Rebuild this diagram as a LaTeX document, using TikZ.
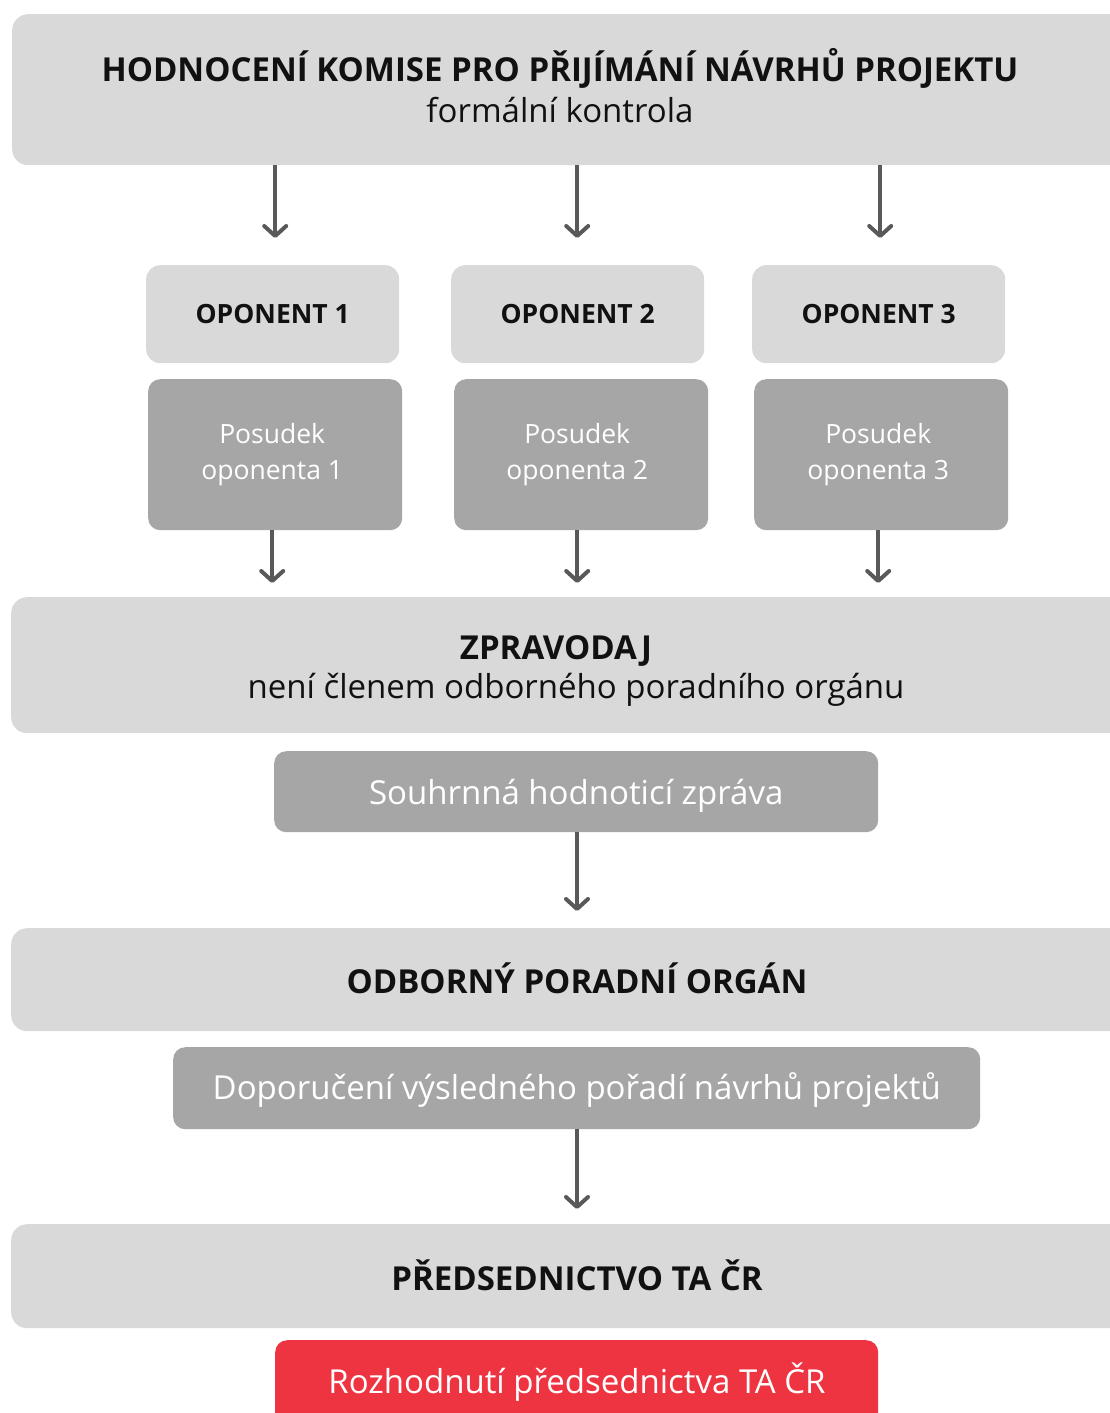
\documentclass[tikz,border=0pt]{standalone}
\usepackage{fontspec}
\setmainfont{Open Sans}
\usetikzlibrary{arrows.meta}
\definecolor{lightbox}{HTML}{D9D9D9}
\definecolor{midbox}{HTML}{A6A6A6}
\definecolor{redbox}{HTML}{EF3441}
\definecolor{arrowgray}{HTML}{595959}
\definecolor{ink}{HTML}{111111}
\tikzset{
  bigbox/.style={fill=lightbox, draw=none, rounded corners=16pt, anchor=north west, inner sep=0pt},
  opbox/.style={fill=lightbox, draw=none, rounded corners=14pt, anchor=north west, inner sep=0pt},
  posbox/.style={fill=midbox, draw=none, rounded corners=12pt, anchor=north west, inner sep=0pt},
  redfill/.style={fill=redbox, draw=none, rounded corners=12pt, anchor=north west, inner sep=0pt},
  bigtxt/.style={font=\fontsize{33}{40}\selectfont\bfseries, text=ink, inner sep=0pt},
  subtxt/.style={font=\fontsize{33}{40}\selectfont, text=ink, inner sep=0pt},
  optxt/.style={font=\fontsize{26.5}{32}\selectfont\bfseries, text=ink, inner sep=0pt},
  postxt/.style={font=\fontsize{26.5}{36}\selectfont, text=white, align=center, inner sep=0pt},
  whitetxt/.style={font=\fontsize{33}{40}\selectfont, text=white, inner sep=0pt},
  arr/.style={draw=arrowgray, line width=4pt, -{Straight Barb[length=10pt, width=22pt, line join=round, line cap=round]}}
}
\begin{document}
\begin{tikzpicture}[x=1pt, y=-1pt]
\useasboundingbox (0,0) rectangle (1110,1413);
\clip (0,0) rectangle (1110,1413);
\fill[white] (0,0) rectangle (1110,1413);

% top box
\node[bigbox, minimum width=1130pt, minimum height=151pt] (top) at (12,14) {};
\node[bigtxt] (toptitle) at (560,68) {HODNOCENÍ KOMISE PRO PŘIJÍMÁNÍ NÁVRHŮ PROJEKTU};
\node[subtxt] (topsub) at (560,110) {formální kontrola};

% opponents
\node[opbox, minimum width=253pt, minimum height=98pt] (op1) at (146,265) {};
\node[opbox, minimum width=253pt, minimum height=98pt] (op2) at (451,265) {};
\node[opbox, minimum width=253pt, minimum height=98pt] (op3) at (752,265) {};
\node[optxt] (op1t) at (op1.center) {OPONENT 1};
\node[optxt] (op2t) at (op2.center) {OPONENT 2};
\node[optxt] (op3t) at (op3.center) {OPONENT 3};

\node[posbox, minimum width=254pt, minimum height=151pt] (pos1) at (148,379) {};
\node[posbox, minimum width=254pt, minimum height=151pt] (pos2) at (454,379) {};
\node[posbox, minimum width=254pt, minimum height=151pt] (pos3) at (754,379) {};
\node[postxt] (pos1t) at ([xshift=-3pt]pos1.center) {Posudek\\oponenta 1};
\node[postxt] (pos2t) at ([xshift=-4pt]pos2.center) {Posudek\\oponenta 2};
\node[postxt] (pos3t) at ([xshift=-3pt]pos3.center) {Posudek\\oponenta 3};

% zpravodaj
\node[bigbox, minimum width=1130pt, minimum height=136pt] (zpr) at (11,597) {};
\node[bigtxt] (zprt) at (556,651) {ZPRAVODAJ};
\node[subtxt] (zprs) at (576,690) {není členem odborného poradního orgánu};

\node[posbox, minimum width=604pt, minimum height=81pt] (sou) at (274,751) {};
\node[whitetxt] (sout) at ([yshift=-4pt]sou.center) {Souhrnná hodnoticí zpráva};

% odborny
\node[bigbox, minimum width=1130pt, minimum height=103pt] (odb) at (11,928) {};
\node[bigtxt] (odbt) at (577,978) {ODBORNÝ PORADNÍ ORGÁN};

\node[posbox, minimum width=807pt, minimum height=82pt] (dop) at (173,1047) {};
\node[whitetxt] (dopt) at ([yshift=-2pt]dop.center) {Doporučení výsledného pořadí návrhů projektů};

% predsednictvo
\node[bigbox, minimum width=1130pt, minimum height=104pt] (pre) at (11,1224) {};
\node[bigtxt] (pret) at (577,1275) {PŘEDSEDNICTVO TA ČR};

\node[redfill, minimum width=603pt, minimum height=100pt] (roz) at (275,1340) {};
\node[whitetxt] (rozt) at (577,1382) {Rozhodnutí předsednictva TA ČR};

% arrows
\draw[arr, shorten >=27pt] ([xshift=2.5pt]top.south -| op1.north) -- ([xshift=2.5pt]op1.north);
\draw[arr, shorten >=27pt] ([xshift=-0.5pt]top.south -| op2.north) -- ([xshift=-0.5pt]op2.north);
\draw[arr, shorten >=27pt] ([xshift=1.5pt]top.south -| op3.north) -- ([xshift=1.5pt]op3.north);
\draw[arr, shorten >=14pt] ([xshift=-3pt]pos1.south) -- ([xshift=-3pt]zpr.north -| pos1.south);
\draw[arr, shorten >=14pt] ([xshift=-4pt]pos2.south) -- ([xshift=-4pt]zpr.north -| pos2.south);
\draw[arr, shorten >=14pt] ([xshift=-3pt]pos3.south) -- ([xshift=-3pt]zpr.north -| pos3.south);
\draw[arr, shorten >=17pt] (sou.south -| odbt.north) -- (odb.north -| odbt.north);
\draw[arr, shorten >=15pt] (dop.south -| pret.north) -- (pre.north -| pret.north);
\end{tikzpicture}
\end{document}
